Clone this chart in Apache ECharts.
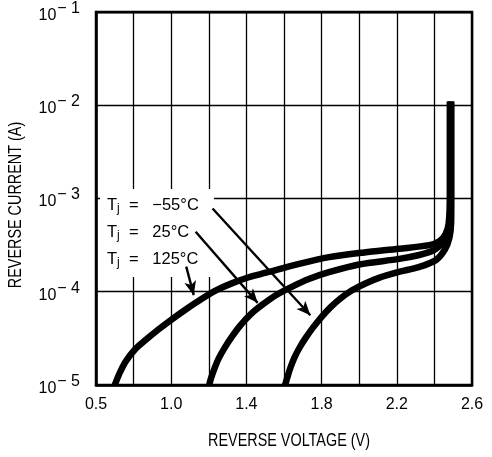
<!DOCTYPE html>
<html>
<head>
<meta charset="utf-8">
<script src="https://cdn.jsdelivr.net/npm/echarts@6/dist/echarts.min.js"></script>
<style>
  html, body { margin: 0; padding: 0; background: #fff; }
  #chart { width: 492px; height: 457px; }
</style>
</head>
<body>
<div id="chart"></div>
<script>
// ---- data ----
const seriesNames = ['−55°C', '25°C', '125°C'];

const voltageM55 = [1.606, 1.618, 1.635, 1.656, 1.684, 1.717, 1.755, 1.798, 1.847, 1.90, 1.96, 2.03, 2.105, 2.21, 2.317, 2.407, 2.455, 2.480, 2.489, 2.490, 2.490];
const currentM55 = [1e-5, 1.21e-5, 1.55e-5, 1.98e-5, 2.54e-5, 3.24e-5, 4.15e-5, 5.32e-5, 6.8e-5, 8.47e-5, 1.03e-4, 1.22e-4, 1.41e-4, 1.63e-4, 1.84e-4, 2.18e-4, 2.82e-4, 3.8e-4, 5.5e-4, 1.1e-3, 1.1e-2];

const voltage25 = [1.202, 1.213, 1.23, 1.252, 1.285, 1.323, 1.367, 1.421, 1.485, 1.561, 1.641, 1.732, 1.839, 1.999, 2.213, 2.319, 2.388, 2.425, 2.462, 2.482, 2.486, 2.486];
const current25 = [1e-5, 1.2e-5, 1.5e-5, 1.92e-5, 2.52e-5, 3.3e-5, 4.34e-5, 5.69e-5, 7.26e-5, 9.29e-5, 1.13e-4, 1.37e-4, 1.62e-4, 1.96e-4, 2.25e-4, 2.48e-4, 2.73e-4, 3.07e-4, 3.7e-4, 5.0e-4, 1.1e-3, 1.1e-2];

const voltage125 = [0.70, 0.724, 0.757, 0.806, 0.865, 0.93, 1.0, 1.081, 1.161, 1.241, 1.322, 1.413, 1.504, 1.68, 1.84, 2.027, 2.213, 2.373, 2.427, 2.459, 2.476, 2.482, 2.482];
const current125 = [1e-5, 1.32e-5, 1.78e-5, 2.39e-5, 3.05e-5, 3.91e-5, 5.0e-5, 6.53e-5, 8.36e-5, 1.04e-4, 1.23e-4, 1.43e-4, 1.6e-4, 1.99e-4, 2.35e-4, 2.64e-4, 2.89e-4, 3.16e-4, 3.48e-4, 4.13e-4, 5.4e-4, 1.1e-3, 1.1e-2];

// arrows: [start, tip] in data coordinates
const arrowM55 = [[1.22, 7.8e-4], [1.74, 5.6e-5]];
const arrow25 = [[1.13, 4.4e-4], [1.46, 7.6e-5]];
const arrow125 = [[1.08, 1.86e-4], [1.12, 9.2e-5]];

const xTickLabels = ['0.5', '1.0', '1.4', '1.8', '2.2', '2.6'];
const yTickExponents = ['−1', '−2', '−3', '−4', '−5'];
const xTitle = 'REVERSE VOLTAGE (V)';
const yTitle = 'REVERSE CURRENT (A)';

const FONT = "Liberation Sans, Arial, Helvetica, sans-serif";

function pairs(xs, ys) { return xs.map((x, i) => [x, ys[i]]); }
function arrowLine(a) { return [{ coord: a[0] }, { coord: a[1] }]; }

const chart = echarts.init(document.getElementById('chart'), null, { renderer: 'canvas' });

const lineStyle = { color: '#000', width: 6.5, cap: 'butt', join: 'round' };

const markArrows = {
  silent: true,
  symbol: ['none', 'arrow'],
  symbolSize: [9, 14],
  label: { show: false },
  lineStyle: { color: '#000', width: 2.4, type: 'solid' },
  itemStyle: { color: '#000' },
  emphasis: { disabled: true },
  animation: false,
  data: [arrowLine(arrowM55), arrowLine(arrow25), arrowLine(arrow125)]
};

function legendRow(name, top) {
  return {
    type: 'text',
    left: 107,
    top: top,
    z: 5,
    style: {
      text: '{t|T}{j|j}{t|  =   ' + name + '}',
      rich: {
        t: { fontSize: 16.5, fontFamily: FONT, fill: '#000' },
        j: { fontSize: 12, fontFamily: FONT, fill: '#000', padding: [7, 0, 0, 0] }
      }
    }
  };
}

function titleText(text, x, y, rot) {
  return {
    type: 'text',
    x: x, y: y,
    rotation: rot,
    scaleX: 0.8,
    z: 5,
    style: {
      text: text,
      font: 'normal 18px ' + FONT,
      fill: '#000',
      align: 'center',
      verticalAlign: 'middle'
    }
  };
}

const smoothVal = 0.3;

const option = {
  animation: false,
  backgroundColor: '#fff',
  grid: {
    left: 96, right: 20, top: 12, bottom: 72,
    show: true, borderColor: '#000', borderWidth: 2.5, backgroundColor: 'transparent'
  },
  xAxis: {
    type: 'value',
    min: 0.6, max: 2.6, interval: 0.2,
    axisLine: { show: true, lineStyle: { color: '#000', width: 2.5 } },
    axisTick: { show: false },
    splitLine: { show: true, lineStyle: { color: '#000', width: 1.3 } },
    axisLabel: {
      margin: 12,
      fontFamily: FONT, fontSize: 16, color: '#000',
      showMinLabel: true, showMaxLabel: true,
      formatter: function (v) {
        const i = Math.round((v - 0.6) / 0.2);
        return i % 2 === 0 ? xTickLabels[i / 2] : '';
      }
    }
  },
  yAxis: {
    type: 'log',
    logBase: 10,
    min: 1e-5, max: 1e-1,
    axisLine: { show: true, lineStyle: { color: '#000', width: 2.5 } },
    axisTick: { show: false },
    splitLine: { show: true, lineStyle: { color: '#000', width: 1.3 } },
    minorSplitLine: { show: false },
    axisLabel: {
      margin: 16,
      color: '#000',
      formatter: function (v) {
        const e = Math.round(-Math.log10(v));
        const s = yTickExponents[e - 1] || ('−' + e);
        return '{b|10}{s|' + s.replace('−', '− ') + '}';
      },
      rich: {
        b: { fontFamily: FONT, fontSize: 16, color: '#000', padding: [7, 1, 0, 0] },
        s: { fontFamily: FONT, fontSize: 16, color: '#000', padding: [0, 0, 7, 0] }
      }
    }
  },
  graphic: [
    { type: 'rect', left: 100, top: 189, z: 1, shape: { width: 114, height: 88 }, style: { fill: '#fff' } },
    legendRow(seriesNames[0], 197),
    legendRow(seriesNames[1], 224),
    legendRow(seriesNames[2], 251),
    titleText(xTitle, 289, 441, 0),
    titleText(yTitle, 16, 205, Math.PI / 2)
  ],
  series: [
    {
      name: seriesNames[0], type: 'line', data: pairs(voltageM55, currentM55),
      showSymbol: false, smooth: smoothVal, lineStyle: lineStyle, z: 3,
      markLine: markArrows
    },
    {
      name: seriesNames[1], type: 'line', data: pairs(voltage25, current25),
      showSymbol: false, smooth: smoothVal, lineStyle: lineStyle, z: 3
    },
    {
      name: seriesNames[2], type: 'line', data: pairs(voltage125, current125),
      showSymbol: false, smooth: smoothVal, lineStyle: lineStyle, z: 3
    }
  ]
};

chart.setOption(option);
</script>
</body>
</html>
